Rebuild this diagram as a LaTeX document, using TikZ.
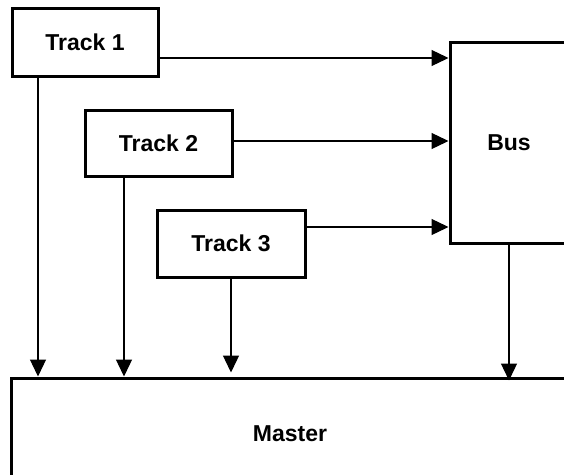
\documentclass[tikz,border=0pt]{standalone}
\usepackage{fontspec}
\setmainfont{Liberation Sans}
\usetikzlibrary{arrows.meta}
\begin{document}
\begin{tikzpicture}[x=1pt,y=-1pt,
  box/.style={draw,line width=3pt,fill=white,inner sep=0pt,
    font=\fontsize{23}{27}\selectfont\bfseries},
  conn/.style={line width=1.3pt,-{Triangle[length=17pt,width=16pt]}}]
\useasboundingbox[fill=white] (0,0) rectangle (564,474);
\node[box,minimum width=146pt,minimum height=68pt] (t1) at (85,42) {Track 1};
\node[box,minimum width=147pt,minimum height=66pt] (t2) at (158.5,143) {Track 2};
\node[box,minimum width=148pt,minimum height=67pt] (t3) at (231,243.5) {Track 3};
\node[box,minimum width=118pt,minimum height=201pt] (bus) at (509,142.5) {Bus};
\node[box,minimum width=558pt,minimum height=112pt] (master) at (290,434) {Master};
\draw[conn] (t1.east |- 0,58) -- (bus.west |- 0,58);
\draw[conn] (t2.east |- 0,141) -- (bus.west |- 0,141);
\draw[conn] (t3.east |- 0,227) -- (bus.west |- 0,227);
\draw[conn] (t1.south -| 38,0) -- (master.north -| 38,0);
\draw[conn] (t2.south -| 124,0) -- (master.north -| 124,0);
\draw[conn] (t3.south) -- ([yshift=4pt]master.north -| t3.south);
\draw[conn] (bus.south) -- ([yshift=-4pt]master.north -| bus.south);
\end{tikzpicture}
\end{document}
